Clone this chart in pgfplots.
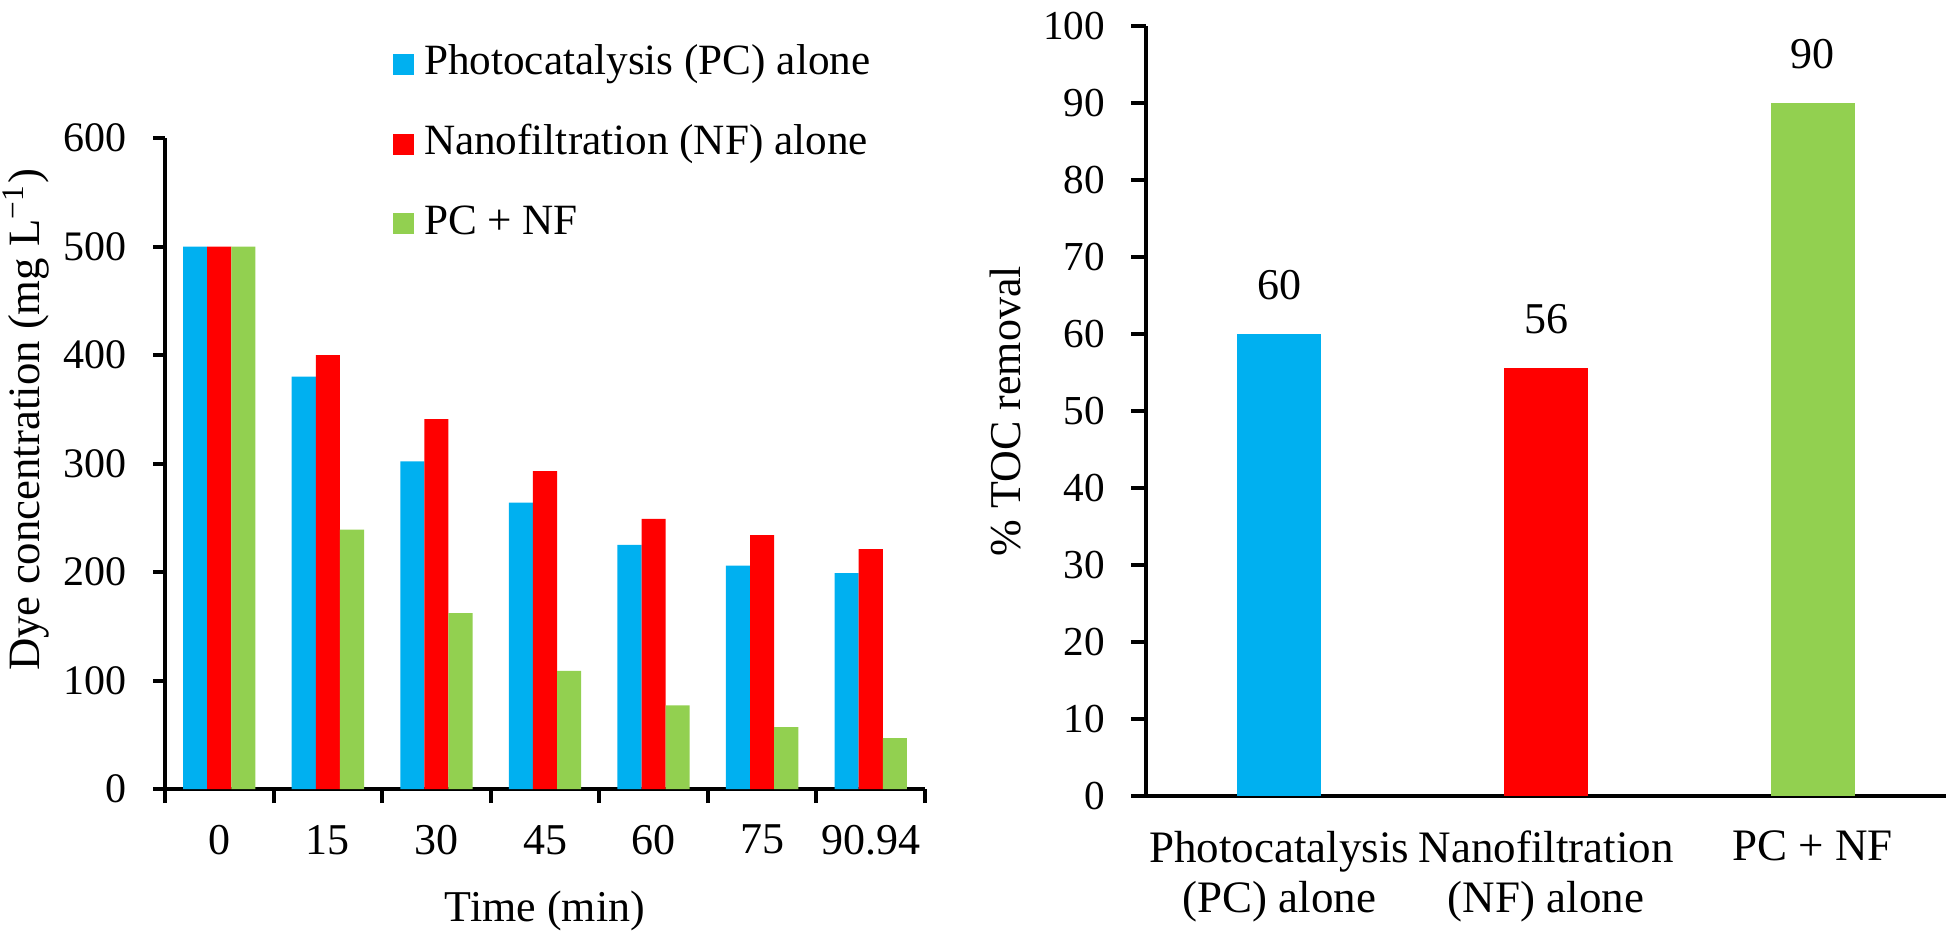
\documentclass[border=0pt]{standalone}
\usepackage{pgfplots}
\pgfplotsset{compat=1.18}
\usepackage{fontspec}
\setmainfont{Liberation Serif}
\definecolor{cblue}{HTML}{00B0F0}
\definecolor{cred}{HTML}{FF0000}
\definecolor{cgreen}{HTML}{92D050}
\pgfplotstableread{
x  pc   nf   pcnf
0  500  500  500
1  380  400  239
2  302  341  162
3  264  293  109
4  225  249  77
5  206  234  57
6  199  221  47
}\dyetable
\pgfplotstableread{
x  v
0  60
1  55.6
2  90
}\toctable
\begin{document}
\begin{tikzpicture}
\useasboundingbox (0,0) rectangle (486.5pt,233.75pt);
\begin{axis}[
  at={(41.25pt,36.5pt)}, anchor=south west,
  scale only axis, width=190pt, height=162.75pt,
  xmin=-0.5, xmax=6.5, ymin=0, ymax=600,
  axis x line*=bottom, axis y line*=left,
  axis line style={line width=1pt,-},
  every tick/.style={line width=1pt, black},
  tick align=outside,
  ytick={0,100,...,600},
  ytick pos=left, xtick pos=bottom,
  major tick length=3pt,
  xtick={0,...,6}, xticklabels={0,15,30,45,60,75,90.94},
  major x tick style={draw=none},
  minor xtick={-0.5,0.5,...,6.5},
  minor tick length=3.5pt,
  yticklabel style={font=\fontsize{10.5}{12}\selectfont, xshift=-3pt},
  xticklabel style={font=\fontsize{11}{13}\selectfont, yshift=-2.5pt},
  /pgf/number format/assume math mode=true,
  xlabel={Time (min)},
  xlabel style={font=\fontsize{11}{13}\selectfont,
    at={(axis description cs:0.5,0)}, anchor=center, yshift=-30.5pt},
  ylabel={Dye concentration (mg L\textsuperscript{−1})},
  ylabel style={font=\fontsize{11.2}{13}\selectfont,
    at={(axis description cs:-0.183,0.567)}, anchor=center},
  legend style={draw=none, fill=none, at={(axis description cs:0.2987,1.146)}, anchor=north west,
    font=\fontsize{10.8}{13}\selectfont, row sep=9.5pt, inner sep=0pt,
    column sep=2.5pt,
    nodes={inner sep=0pt, text height=7.8pt, text depth=2.6pt},
    legend cell align=left},
  legend image code/.code={\fill[#1] (0pt,-2.65pt) rectangle (5.3pt,2.65pt);},
  clip=false,
]
\addplot[ybar, bar width=0.222, bar shift=-0.222, fill=cblue, draw=none] table[x=x,y=pc] {\dyetable};
\addlegendentry{Photocatalysis (PC) alone}
\addplot[ybar, bar width=0.222, bar shift=0, fill=cred, draw=none] table[x=x,y=nf] {\dyetable};
\addlegendentry{Nanofiltration (NF) alone}
\addplot[ybar, bar width=0.222, bar shift=0.222, fill=cgreen, draw=none] table[x=x,y=pcnf] {\dyetable};
\addlegendentry{PC + NF}
\end{axis}
\begin{axis}[
  at={(286.5pt,34.75pt)}, anchor=south west,
  scale only axis, width=200pt, height=192.5pt,
  xmin=-0.5, xmax=2.5, ymin=0, ymax=100,
  axis x line*=bottom, axis y line*=left,
  axis line style={line width=1pt,-},
  every tick/.style={line width=1pt, black},
  tick align=outside,
  ytick={0,10,...,100},
  ytick pos=left, xtick pos=bottom,
  major tick length=3.75pt,
  xtick={0,1,2},
  xticklabels={{Photocatalysis\\(PC) alone},{Nanofiltration\\(NF) alone},{PC + NF}},
  xticklabel style={align=center, font=\fontsize{11.25}{12.5}\selectfont, yshift=-1.5pt},
  major x tick style={draw=none},
  yticklabel style={font=\fontsize{10.3}{12}\selectfont, xshift=-3pt},
  /pgf/number format/assume math mode=true,
  ylabel={\% TOC removal},
  ylabel style={font=\fontsize{11}{13}\selectfont,
    at={(axis description cs:-0.175,0.5)}, anchor=center},
  clip=false,
]
\addplot[ybar, bar width=0.315, fill=cblue, draw=none,
  nodes near coords={\pgfmathprintnumber[fixed,precision=0]{\pgfplotspointmeta}},
  nodes near coords style={font=\fontsize{11}{13}\selectfont, yshift=5pt},
  x filter/.expression={x==0 ? x : nan}] table[x=x,y=v] {\toctable};
\addplot[ybar, bar width=0.315, fill=cred, draw=none,
  nodes near coords={\pgfmathprintnumber[fixed,precision=0]{\pgfplotspointmeta}},
  nodes near coords style={font=\fontsize{11}{13}\selectfont, yshift=5pt},
  x filter/.expression={x==1 ? x : nan}] table[x=x,y=v] {\toctable};
\addplot[ybar, bar width=0.315, fill=cgreen, draw=none,
  nodes near coords={\pgfmathprintnumber[fixed,precision=0]{\pgfplotspointmeta}},
  nodes near coords style={font=\fontsize{11}{13}\selectfont, yshift=5pt},
  x filter/.expression={x==2 ? x : nan}] table[x=x,y=v] {\toctable};
\end{axis}
\end{tikzpicture}
\end{document}
